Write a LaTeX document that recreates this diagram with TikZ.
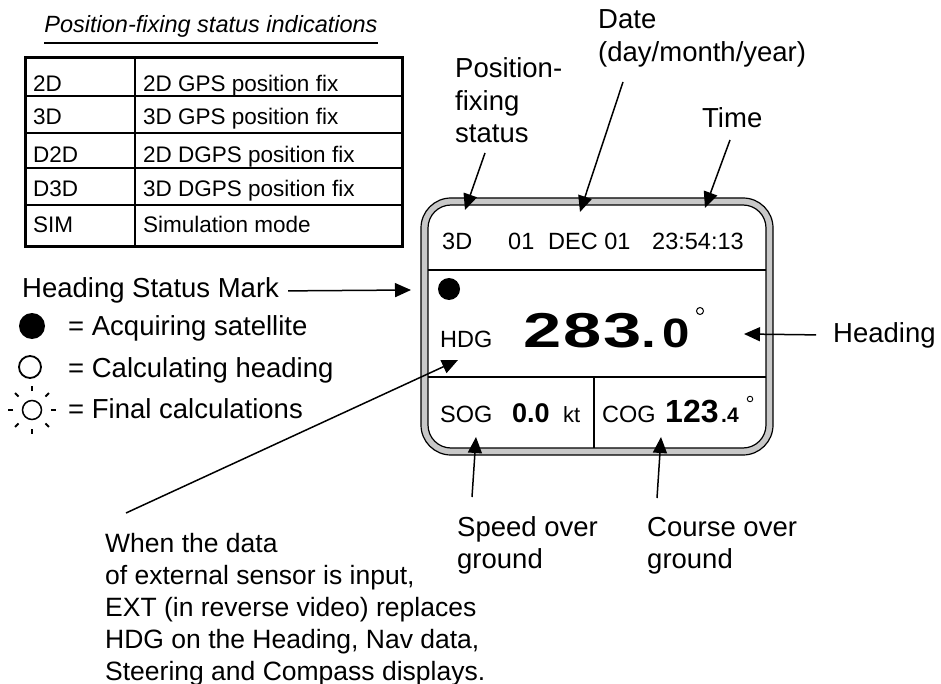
\documentclass[tikz,border=0pt]{standalone}
\usepackage{fontspec}
\setmainfont{Liberation Sans}
\usepackage{graphicx}
\usetikzlibrary{arrows.meta,calc}
\definecolor{band}{HTML}{C8C8C8}
\newcommand{\fsz}[2]{\fontsize{#1}{#2}\selectfont}
\newcommand{\wide}[2]{\scalebox{#1}[1]{#2}}
\tikzset{lbl/.style={font=\fsz{27.5}{32.5},inner sep=0pt,anchor=base west,align=left},
  note/.style={font=\fsz{26.5}{32},inner sep=0pt,anchor=base west,align=left},
  cell/.style={font=\fsz{22.5}{27},inner sep=0pt,anchor=base west},
  lcd/.style={font=\fsz{23.5}{28},inner sep=0pt,anchor=base west},
  bigd/.style={font=\fsz{49}{49}\bfseries,inner sep=0pt,anchor=base west},
  ptr/.style={-{Triangle[length=16pt,width=14pt]},line width=1.5pt},
  lead/.style={line width=1.5pt}}
\begin{document}
\begin{tikzpicture}[x=1pt,y=-1pt]
\useasboundingbox (0,0) rectangle (941,684);
% status table
\node[font=\fsz{23.5}{28}\itshape,inner sep=0pt,anchor=base] (title) at (211,33) {Position-fixing status indications};
\draw[line width=1.3pt] ([yshift=-5pt]title.south west) -- ([yshift=-5pt]title.south east);
\draw[line width=3pt] (25,58) rectangle (402,247);
\draw[line width=1.5pt] (135,58) -- (135,247);
\foreach \y in {96,133,168,205} \draw[line width=1.5pt] (25,\y) -- (402,\y);
\foreach \k/\t/\b [count=\i] in {2D/2D GPS position fix/92,3D/3D GPS position fix/125,
  D2D/2D DGPS position fix/163,D3D/3D DGPS position fix/197,SIM/Simulation mode/233}{
  \node[cell] (k\i) at (33,\b) {\k};
  \node[cell] (t\i) at (143,\b) {\t};}
% heading status mark legend
\node[lbl] (hsm) at (22,298) {Heading Status Mark};
\coordinate (hsmtip) at (411,290);
\draw[ptr] ([xshift=9pt]hsm.east) -- (hsmtip);
\node[circle,fill=black,inner sep=0pt,minimum size=26pt] (acq) at (32,326) {};
\node[circle,draw,line width=1.8pt,inner sep=0pt,minimum size=22pt] (calc) at (30,367) {};
\node[circle,draw,line width=1.5pt,inner sep=0pt,minimum size=19pt] (fin) at (32,410) {};
\foreach \a in {0,45,...,315} \draw[line width=1.8pt] ($(fin)+(\a:19)$) -- ($(fin)+(\a:24)$);
\node[lbl] (acqt) at (68,335) {= Acquiring satellite};
\node[lbl] (calct) at (68,377) {= Calculating heading};
\node[lbl] (fint) at (68,418) {= Final calculations};
% display
\draw[line width=1.2pt,fill=band,rounded corners=30pt] (421,198) rectangle (773,455);
\draw[line width=1.2pt,fill=white,rounded corners=23pt] (428,205) rectangle (766,448);
\draw[line width=2pt] (428,270) -- (766,270) (428,377) -- (766,377) (594,377) -- (594,448);
\node[lcd] (fix) at (442,250) {3D};
\node[lcd] (day) at (508,250) {01};
\node[lcd] (mon) at (548,250) {DEC 01};
\node[lcd] (clock) at (652,250) {23:54:13};
\node[circle,fill=black,inner sep=0pt,minimum size=22pt] (mark) at (449,289) {};
\node[lcd] (hdg) at (440,347) {HDG};
\node[bigd] (d2) at (523,347) {\wide{1.4}{2}};
\node[bigd] (d8) at (563,347) {\wide{1.4}{8}};
\node[bigd] (d3) at (603,347) {\wide{1.4}{3}};
\node[bigd,font=\fsz{41}{41}\bfseries] (dpt) at (641,347) {\wide{1.3}{.}};
\node[bigd,font=\fsz{41}{41}\bfseries] (d0) at (662,347) {\wide{1.2}{0}};
\node[circle,draw,line width=1pt,inner sep=0pt,minimum size=7pt] (deg) at (700,311) {};
\node[lcd] (sog) at (440,422) {SOG};
\node[lcd,font=\fsz{27}{27}\bfseries] (sogv) at (512,422) {0.0};
\node[lcd,font=\fsz{22}{22}] (kt) at (563,422) {kt};
\node[lcd] (cog) at (602,422) {COG};
\node[lcd,font=\fsz{32}{32}\bfseries] (cogv) at (665,422) {123};
\node[lcd,font=\fsz{21}{21}\bfseries] (cogd) at (721,422) {.4};
\node[circle,draw,line width=.9pt,inner sep=0pt,minimum size=5.5pt] (cdeg) at (750,399) {};
% callouts (base = last line)
\node[lbl] (fixl) at (455,143) {Position-\\fixing\\status};
\node[lbl] (datel) at (598,61.5) {Date\\(day/month/year)};
\node[lbl] (timel) at (702,128) {Time};
\node[lbl] (headl) at (833,342) {Heading};
\node[lbl] (sogl) at (457,568.5) {Speed over\\ground};
\node[lbl] (cogl) at (647,568.5) {Course over\\ground};
\node[note] (extl) at (105,680) {When the data\\of external sensor is input,\\EXT (in reverse video) replaces\\HDG on the Heading, Nav data,\\Steering and Compass displays.};
\coordinate (fixt) at (485,153); \coordinate (fixh) at (465,210);
\coordinate (datet) at (623,82); \coordinate (dateh) at (580,212);
\coordinate (timet) at (730,140); \coordinate (timeh) at (705,208);
\coordinate (headh) at (744,334);
\coordinate (sogt) at (472,497); \coordinate (sogh) at (476,437);
\coordinate (cogt) at (657,498); \coordinate (cogh) at (661,437);
\coordinate (extt) at (126,513); \coordinate (exth) at (458,360);
\draw[ptr] (fixt) -- (fixh);
\draw[ptr] (datet) -- (dateh);
\draw[ptr] (timet) -- (timeh);
\draw[ptr] ([xshift=-17pt]headl.west) -- (headh);
\draw[ptr] (sogt) -- (sogh);
\draw[ptr] (cogt) -- (cogh);
\draw[ptr] (extt) -- (exth);
\end{tikzpicture}
\end{document}
